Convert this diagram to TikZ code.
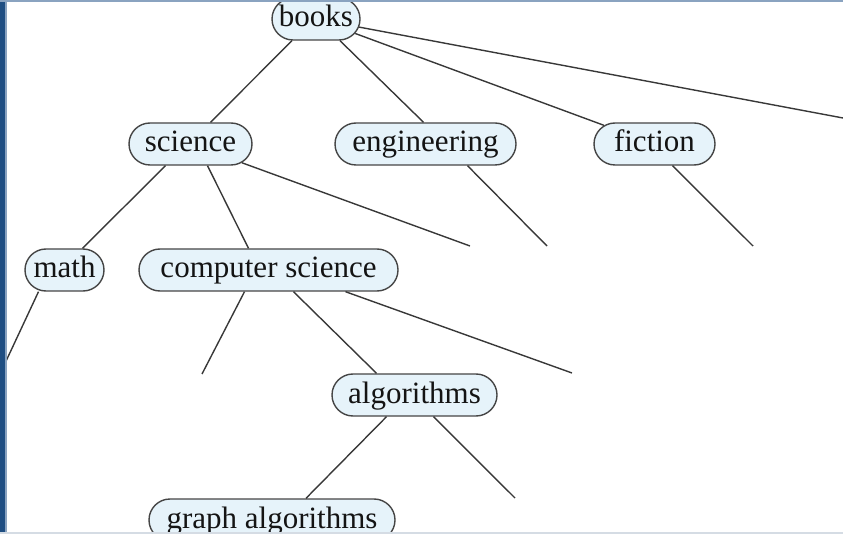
\documentclass[tikz,border=0pt]{standalone}
\usepackage{fontspec}
\setmainfont{Liberation Serif}
\usetikzlibrary{shapes.misc}
\definecolor{nodefill}{HTML}{E6F3FA}
\definecolor{nodeedge}{HTML}{454545}
\definecolor{linecol}{HTML}{383838}
\definecolor{framedark}{HTML}{1F4E82}
\definecolor{framelight}{HTML}{8AA3C0}
\definecolor{framegray}{HTML}{D5DCE4}
\begin{document}
\begin{tikzpicture}[x=1pt,y=-1pt,
  topic/.style={rounded rectangle, draw=nodeedge, fill=nodefill, line width=1.4pt,
    minimum height=42pt, inner xsep=2pt, inner ysep=0pt,
    text height=22pt, text depth=6pt, font=\fontsize{31}{36}\selectfont, text=black!92},
  branch/.style={draw=linecol, line width=1.4pt}]
\useasboundingbox (0,0) rectangle (843,534);
\clip (0,0) rectangle (843,534);
% nodes
\node[topic, minimum width=92pt]  (books)  at (316,19)  {books};
\node[topic, minimum width=127pt] (sci)    at (190.5,144) {science};
\node[topic, minimum width=185pt] (eng)    at (425.5,144) {engineering};
\node[topic, minimum width=125pt] (fic)    at (654.5,144) {fiction};
\node[topic, minimum width=83pt]  (math)   at (64.5,270) {math};
\node[topic, minimum width=263pt] (cs)     at (268.5,270) {computer science};
\node[topic, minimum width=169pt] (alg)    at (414.5,395) {algorithms};
\node[topic, minimum width=250pt] (graph)  at (272,520) {graph algorithms};
% free ends
\coordinate (eR)   at (843,118);
\coordinate (eSci) at (470,246);
\coordinate (eEng) at (547,246);
\coordinate (eFic) at (753,246);
\coordinate (eMat) at (0,374);
\coordinate (eCsL) at (202,374);
\coordinate (eCsR) at (572,373);
\coordinate (eAlg) at (515,498);
% connectors
\draw[branch] ([xshift=-24pt]books.south) -- ([xshift=20pt]sci.north);
\draw[branch] ([xshift=24pt]books.south) -- ([xshift=-2pt]eng.north);
\draw[branch] (books) -- (fic);
\draw[branch] (books) -- (eR);
\draw[branch] ([xshift=-25pt]sci.south) -- ([xshift=18pt]math.north);
\draw[branch] ([xshift=17pt]sci.south) -- ([xshift=-20pt]cs.north);
\draw[branch] (sci) -- (eSci);
\draw[branch] ([xshift=42pt]eng.south) -- (eEng);
\draw[branch] ([xshift=18pt]fic.south) -- (eFic);
\draw[branch] ([xshift=-26pt]math.south) -- (eMat);
\draw[branch] ([xshift=-24pt]cs.south) -- (eCsL);
\draw[branch] ([xshift=25pt]cs.south) -- ([xshift=-38pt]alg.north);
\draw[branch] ([xshift=77pt]cs.south) -- (eCsR);
\draw[branch] ([xshift=-28pt]alg.south) -- ([xshift=34pt]graph.north);
\draw[branch] ([xshift=19pt]alg.south) -- (eAlg);
% frame
\fill[framelight] (0,0) rectangle (6.5,534);
\fill[framedark] (0,0) rectangle (4.5,534);
\fill[framelight] (0,0) rectangle (843,2.5);
\fill[framegray] (0,531.5) rectangle (843,534);
\end{tikzpicture}
\end{document}
